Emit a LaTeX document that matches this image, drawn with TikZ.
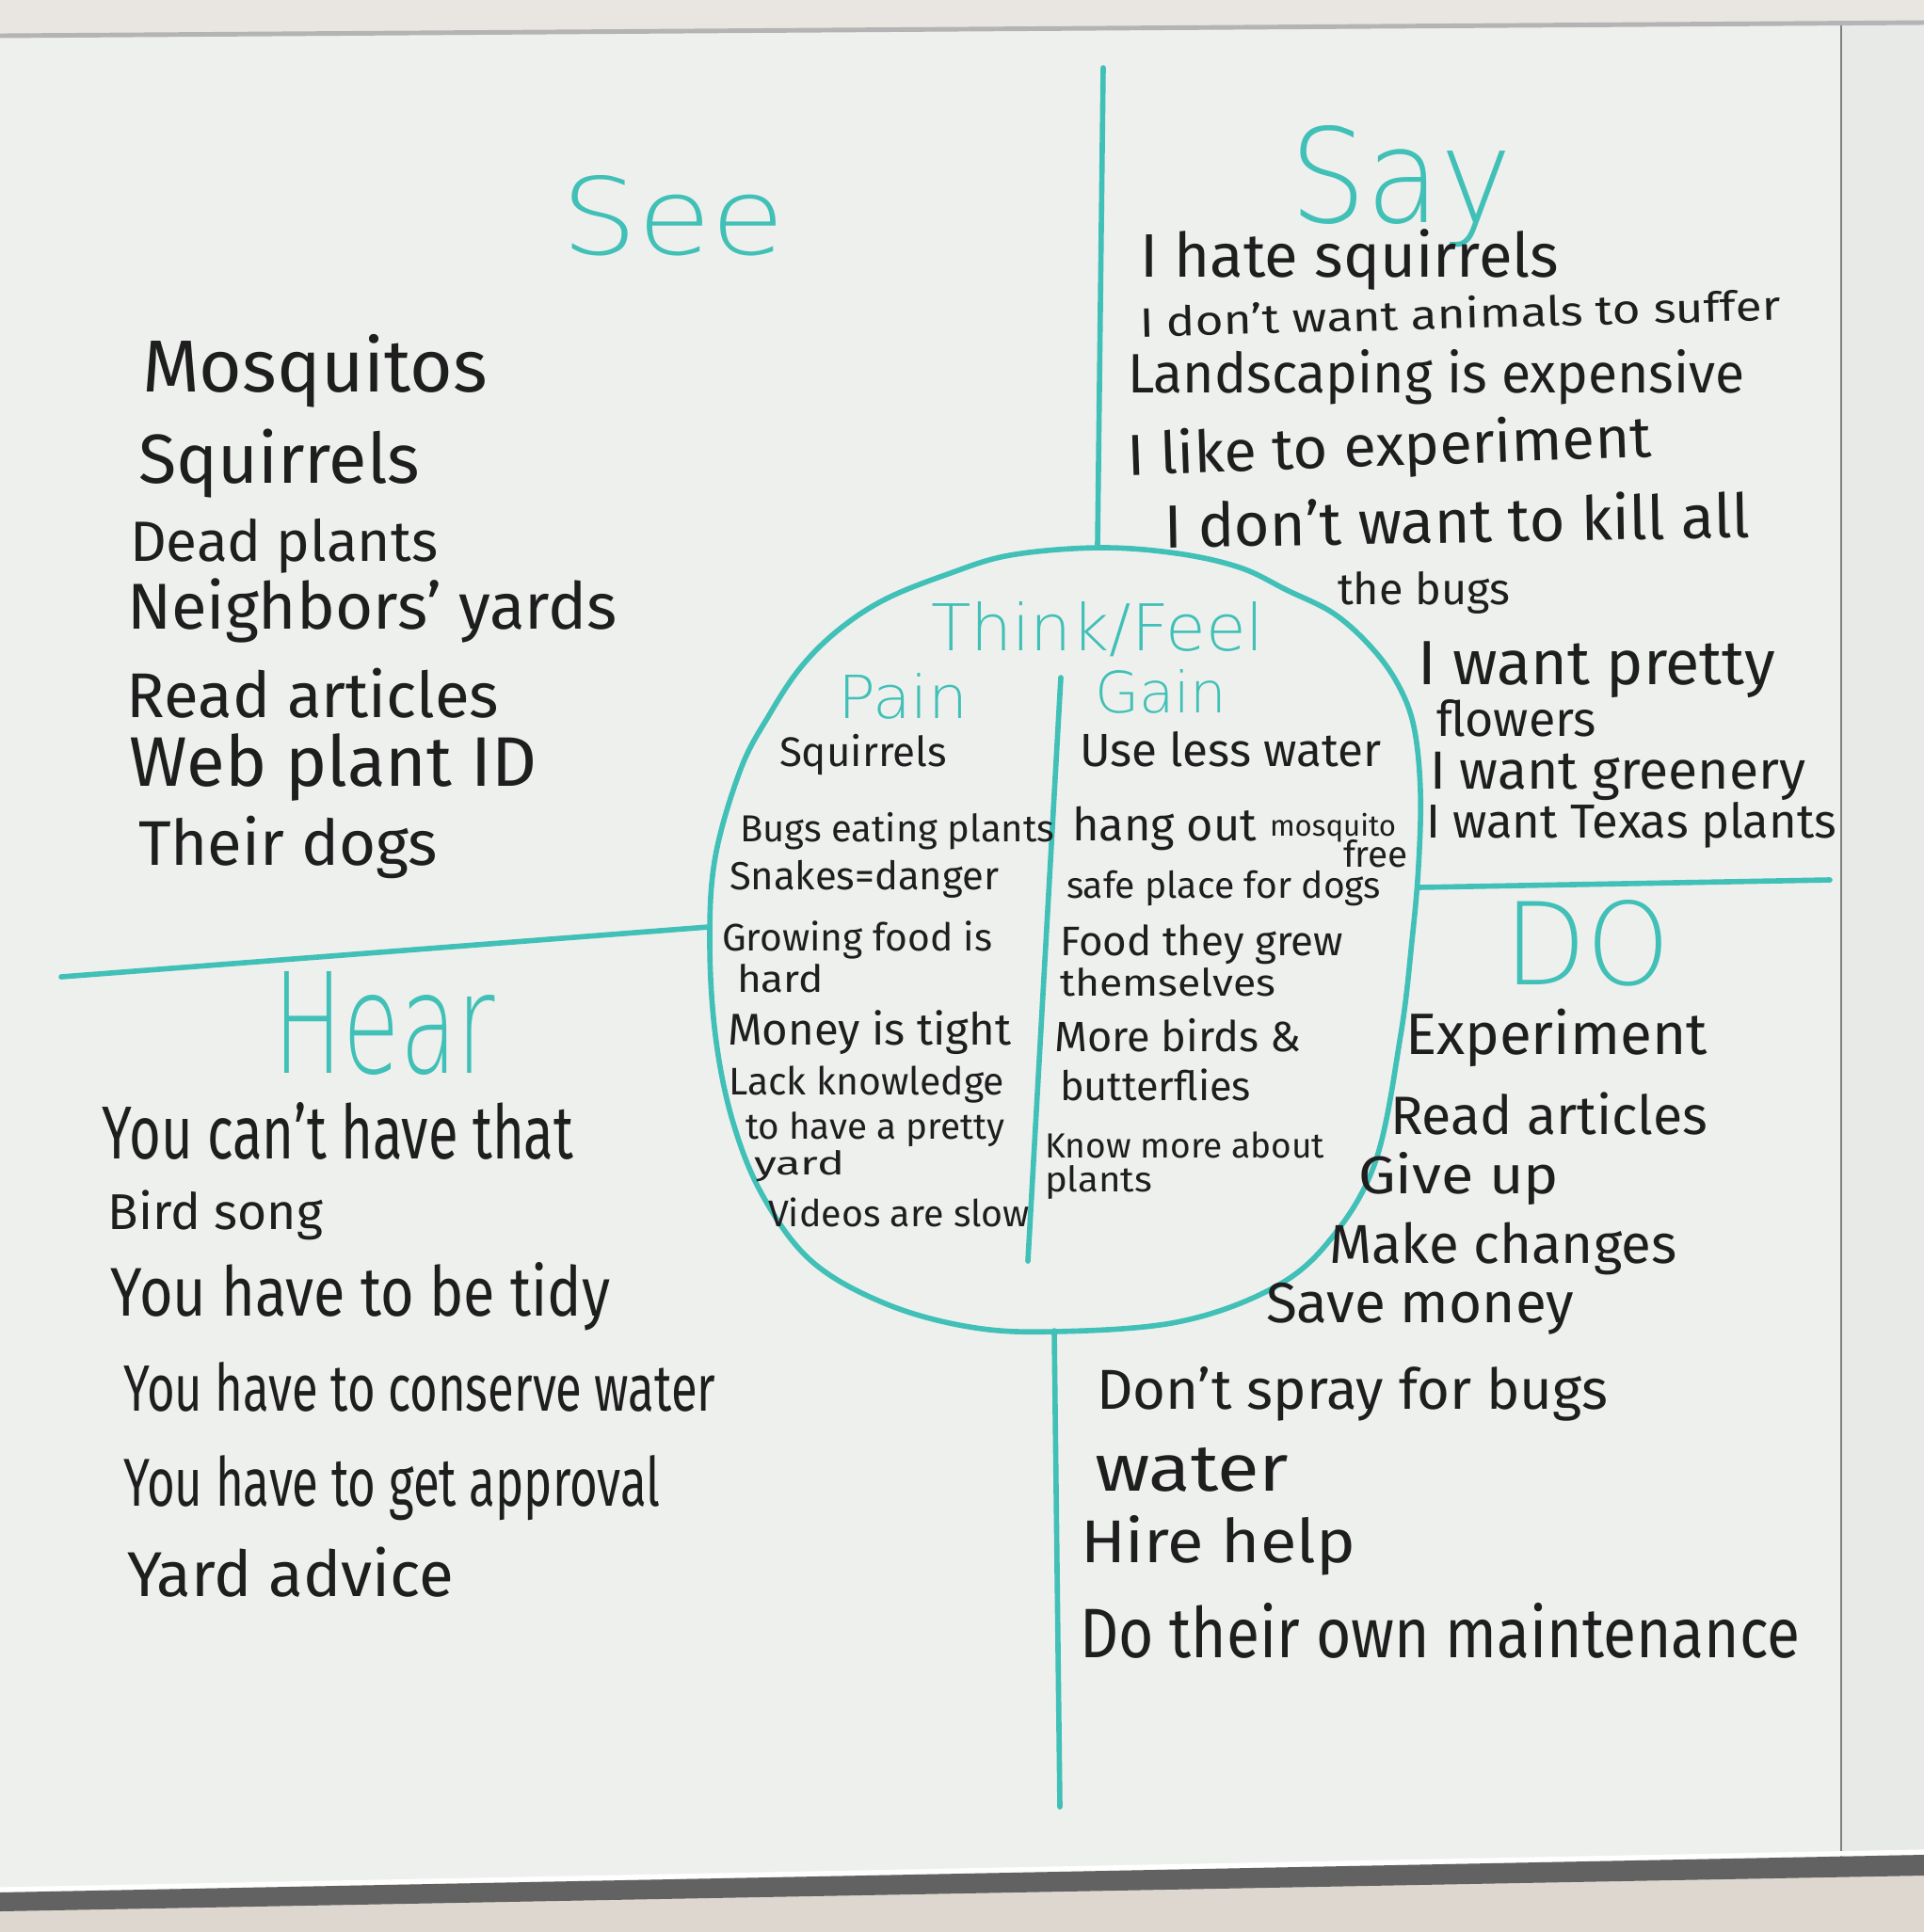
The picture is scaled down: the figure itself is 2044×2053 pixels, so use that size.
\documentclass[tikz,border=0pt]{standalone}
\usepackage{fontspec}
\setmainfont{Fira Sans}
\newfontfamily\thinf{DejaVu Sans ExtraLight}
\usepackage{graphicx}
\definecolor{inkc}{HTML}{1E1E1E}
\definecolor{tealc}{HTML}{40C0B6}
\definecolor{wallc}{HTML}{E9E5E1}
\definecolor{boardc}{HTML}{EEF0EE}
\definecolor{panelc}{HTML}{E8EAE8}
\definecolor{edgec}{HTML}{B4B4B4}
\definecolor{trayc}{HTML}{626262}
\definecolor{floorc}{HTML}{DDD7D0}
\newcommand{\hw}[2]{\resizebox{#1cm}{!}{#2}}
\newcommand{\hwh}[3]{\resizebox{#1cm}{#2cm}{#3}}
\tikzset{
  ink/.style={anchor=base west, inner sep=0pt, outer sep=0pt, text=inkc},
  head/.style={anchor=base west, inner sep=0pt, outer sep=0pt, text=tealc, font=\thinf},
  marker/.style={draw=tealc, line width=1.6pt, line cap=round, line join=round},
}
\begin{document}
\begin{tikzpicture}[x=0.01cm,y=-0.01cm]
\useasboundingbox (0,0) rectangle (2044,2053);
% wall and board
\fill[wallc] (0,0) rectangle (2044,2053);
\fill[boardc] (0,38) -- (1956,26) -- (1956,1975) -- (0,2008) -- cycle;
\fill[panelc] (1956,26) -- (2044,25) -- (2044,1968) -- (1956,1975) -- cycle;
\draw[edgec, line width=1.4pt] (0,38) -- (2044,24);
\draw[gray, line width=0.4pt] (1956,27) -- (1956,1975);
\draw[white, line width=1.5pt] (0,2008) -- (2044,1968);
\fill[floorc] (0,2030) -- (2044,1992) -- (2044,2053) -- (0,2053) -- cycle;
\fill[trayc] (0,2011) -- (2044,1971) -- (2044,1993) -- (0,2031) -- cycle;

% teal structure
\draw[marker] (1172,72) -- (1166,580);
\draw[marker] (1120,1414) -- (1126,1920);
\draw[marker] (65,1038) -- (753,985);
\draw[marker] (1506,943) -- (1944,935);
\draw[marker] (1127,720) -- (1092,1340);
\draw[marker] plot[smooth cycle, tension=0.6] coordinates {
 (1167,582) (1250,588) (1317,603) (1367,627) (1417,652) (1457,688) (1485,727)
 (1502,772) (1509,840) (1507,920) (1500,1000) (1488,1100) (1461,1235)
 (1411,1320) (1350,1370) (1250,1405) (1120,1415) (1030,1410) (940,1385)
 (862,1340) (810,1270) (778,1190) (760,1100) (754,1000) (760,910) (787,817)
 (817,760) (850,710) (890,670) (940,637) (1007,610) (1073,590)};

% headings
\node[head] (see) at (596,270) {\hwh{2.38}{0.84}{See}};
\node[head] (say) at (1370,236) {\hwh{2.36}{1.03}{Say}};
\node[head] (think) at (989,691) {\hwh{3.54}{0.52}{Think/Feel}};
\node[head] (pain) at (890,763) {\hwh{1.38}{0.48}{Pain}};
\node[head] (gain) at (1163,757) {\hwh{1.40}{0.46}{Gain}};
\node[head] (hear) at (291,1140) {\hwh{2.35}{1.08}{Hear}};
\node[head] (do) at (1598,1046) {\hwh{1.76}{0.90}{DO}};

% See
\node[ink] (see1) at (151,416) {\hw{3.67}{Mosquitos}};
\node[ink] (see2) at (147,513) {\hw{2.99}{Squirrels}};
\node[ink] (see3) at (138,596) {\hw{3.27}{Dead plants}};
\node[ink] (see4) at (135,668) {\hw{5.20}{Neighbors' yards}};
\node[ink] (see5) at (135,762) {\hw{3.95}{Read articles}};
\node[ink] (see6) at (138,835) {\hw{4.32}{Web plant ID}};
\node[ink] (see7) at (147,919) {\hw{3.18}{Their dogs}};

% Hear
\node[ink] (hear1) at (109,1231) {\hwh{5.00}{0.60}{You can't have that}};
\node[ink] (hear2) at (115,1306) {\hw{2.28}{Bird song}};
\node[ink] (hear3) at (118,1398) {\hwh{5.30}{0.57}{You have to be tidy}};
\node[ink] (hear4) at (131,1499) {\hwh{6.29}{0.52}{You have to conserve water}};
\node[ink] (hear5) at (131,1600) {\hwh{5.70}{0.54}{You have to get approval}};
\node[ink] (hear6) at (135,1696) {\hw{3.47}{Yard advice}};

% Say
\node[ink] (say1) at (1211,294) {\hw{4.45}{I hate squirrels}};
\node[ink, rotate=1.5] (say2) at (1211,358) {\hwh{6.81}{0.34}{I don't want animals to suffer}};
\node[ink] (say3) at (1198,417) {\hwh{6.55}{0.46}{Landscaping is expensive}};
\node[ink, rotate=2] (say4) at (1198,505) {\hwh{5.57}{0.48}{I like to experiment}};
\node[ink, rotate=1] (say5) at (1237,582) {\hw{6.22}{I don't want to kill all}};
\node[ink] (say6) at (1421,642) {\hw{1.83}{the bugs}};
\node[ink] (say7) at (1506,727) {\hw{3.80}{I want pretty}};
\node[ink] (say8) at (1526,782) {\hw{1.70}{flowers}};
\node[ink] (say9) at (1519,838) {\hw{3.99}{I want greenery}};
\node[ink] (say10) at (1515,890) {\hw{4.36}{I want Texas plants}};

% Do
\node[ink] (do1) at (1493,1120) {\hw{3.21}{Experiment}};
\node[ink] (do2) at (1477,1205) {\hw{3.37}{Read articles}};
\node[ink] (do3) at (1443,1268) {\hwh{2.13}{0.44}{Give up}};
\node[ink] (do4) at (1412,1342) {\hw{3.69}{Make changes}};
\node[ink] (do5) at (1345,1405) {\hw{3.27}{Save money}};
\node[ink] (do6) at (1165,1497) {\hw{5.43}{Don't spray for bugs}};
\node[ink] (do7) at (1163,1584) {\hwh{2.06}{0.46}{water}};
\node[ink] (do8) at (1148,1660) {\hwh{2.92}{0.50}{Hire help}};
\node[ink] (do9) at (1147,1761) {\hwh{7.65}{0.58}{Do their own maintenance}};

% Pain
\node[ink] (pain1) at (828,814) {\hw{1.78}{Squirrels}};
\node[ink] (pain2) at (786,894) {\hw{3.34}{Bugs eating plants}};
\node[ink] (pain3) at (775,945) {\hw{2.86}{Snakes=danger}};
\node[ink] (pain4) at (767,1010) {\hw{2.87}{Growing food is}};
\node[ink] (pain5) at (783,1054) {\hwh{0.92}{0.30}{hard}};
\node[ink] (pain6) at (773,1110) {\hw{3.01}{Money is tight}};
\node[ink] (pain7) at (774,1163) {\hw{2.93}{Lack knowledge}};
\node[ink] (pain8) at (792,1210) {\hw{2.75}{to have a pretty}};
\node[ink] (pain9) at (801,1248) {\hwh{0.96}{0.26}{yard}};
\node[ink] (pain10) at (816,1303) {\hw{2.78}{Videos are slow}};

% Gain
\node[ink] (gain1) at (1147,814) {\hw{3.20}{Use less water}};
\node[ink] (gain2) at (1139,893) {\hw{1.96}{hang out}};
\node[ink] (gain2b) at (1349,888) {\hw{1.34}{mosquito}};
\node[ink] (gain2c) at (1427,921) {\hw{0.69}{free}};
\node[ink] (gain3) at (1133,954) {\hw{3.34}{safe place for dogs}};
\node[ink] (gain4) at (1126,1015) {\hw{3.01}{Food they grew}};
\node[ink] (gain5) at (1126,1058) {\hwh{2.29}{0.30}{themselves}};
\node[ink] (gain6) at (1120,1117) {\hw{2.62}{More birds \&}};
\node[ink] (gain7) at (1126,1169) {\hw{2.03}{butterflies}};
\node[ink] (gain8) at (1110,1230) {\hw{2.97}{Know more about}};
\node[ink] (gain9) at (1110,1266) {\hwh{1.14}{0.28}{plants}};
\end{tikzpicture}
\end{document}
